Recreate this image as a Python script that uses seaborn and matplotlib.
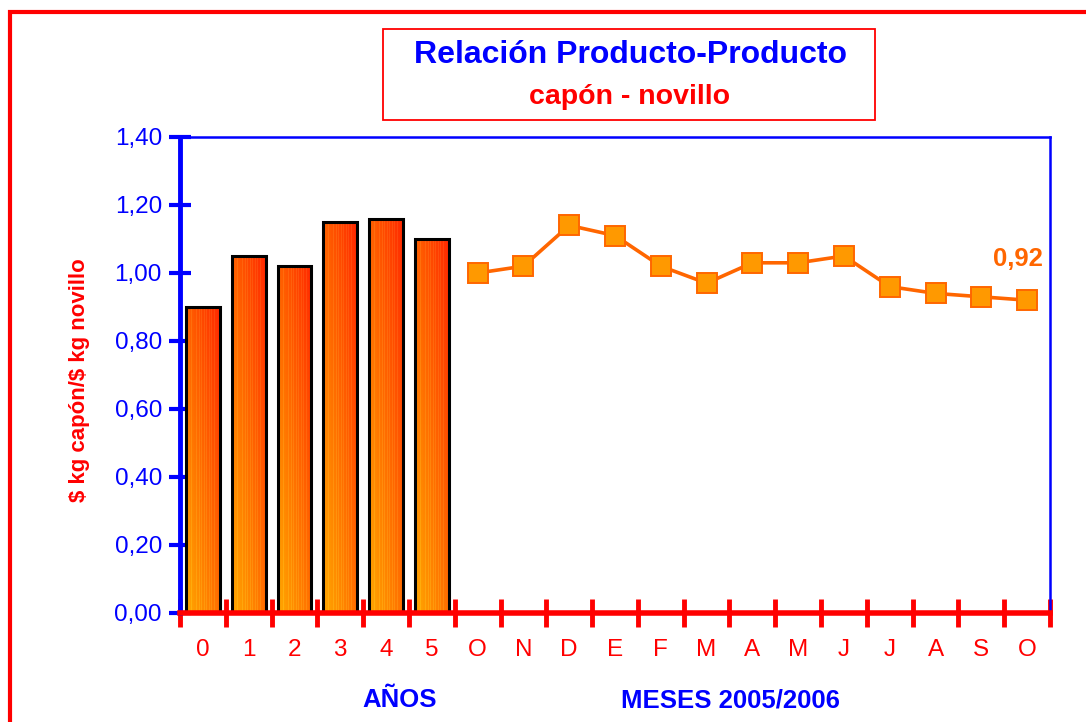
import numpy as np
import pandas as pd
import matplotlib
matplotlib.use("Agg")
import matplotlib.pyplot as plt
from matplotlib.patches import Rectangle
from matplotlib.colors import to_rgb
import seaborn as sns

# ---- data ----
year_labels = ["0", "1", "2", "3", "4", "5"]
year_values = [0.90, 1.05, 1.02, 1.15, 1.16, 1.10]
month_labels = ["O", "N", "D", "E", "F", "M", "A", "M", "J", "J", "A", "S", "O"]
month_values = [1.00, 1.02, 1.14, 1.11, 1.02, 0.97, 1.03, 1.03, 1.05, 0.96, 0.94, 0.93, 0.92]
y_ticks = [0.0, 0.2, 0.4, 0.6, 0.8, 1.0, 1.2, 1.4]

sns.set_theme(style="white")
plt.rcParams["font.family"] = ["Liberation Sans", "DejaVu Sans"]

BLUE = "#0000FF"
RED = "#FF0000"
ORANGE_LINE = "#FF6600"
ORANGE_FILL = "#FF9900"

fig = plt.figure(figsize=(10.86, 7.22), dpi=100)
ax = fig.add_axes([180 / 1086, 1 - 613 / 722, 870 / 1086, 476 / 722])

all_labels = year_labels + month_labels
n_all = len(all_labels)

bars_df = pd.DataFrame({"pos": np.arange(len(year_labels)), "val": year_values})
sns.barplot(data=bars_df, x="pos", y="val", ax=ax, width=0.74,
            color=ORANGE_FILL, edgecolor="black", linewidth=2.2, zorder=3)

# gradient fill for bars
c_bl = np.array(to_rgb("#FFA200"))
c_tr = np.array(to_rgb("#FF2200"))
for p in list(ax.patches):
    x0, y0 = p.get_x(), p.get_y()
    w, h = p.get_width(), p.get_height()
    nx, ny = 40, 200
    xf = np.linspace(0, 1, nx)[None, :]
    yf = np.linspace(1, 0, ny)[:, None]
    t = np.clip(0.45 * xf + 0.55 * yf - 0.05, 0, 1)
    img = c_bl[None, None, :] * (1 - t[..., None]) + c_tr[None, None, :] * t[..., None]
    stripes = (np.arange(nx) % 3 == 0)[None, :, None]
    img = np.where(stripes, np.clip(img + np.array([0, 0.07, 0.05]), 0, 1), img)
    im = ax.imshow(img, extent=[x0, x0 + w, y0, y0 + h], aspect="auto",
                   zorder=2.5, interpolation="nearest")
    im.set_clip_path(p)
    p.set_facecolor("none")

line_df = pd.DataFrame({"pos": np.arange(len(year_labels), n_all), "val": month_values})
sns.lineplot(data=line_df, x="pos", y="val", ax=ax, color=ORANGE_LINE, linewidth=2.6,
             marker="s", markersize=15, markerfacecolor=ORANGE_FILL,
             markeredgecolor=ORANGE_LINE, markeredgewidth=1.4, zorder=4)

last_x = line_df["pos"].iloc[-1]
last_y = line_df["val"].iloc[-1]
ax.annotate(f"{last_y:.2f}".replace(".", ","), xy=(last_x, last_y),
            xytext=(-6.5, 30), textcoords="offset points", ha="center", va="center",
            color=ORANGE_LINE, fontsize=18.5, fontweight="bold")

ax.set_xlim(-0.5, n_all - 0.5)
ax.set_ylim(0, 1.4)
ax.set_xlabel("")
ax.set_ylabel("")

ax.set_yticks(y_ticks)
ax.set_yticklabels([f"{v:.2f}".replace(".", ",") for v in y_ticks])
ax.tick_params(axis="y", direction="inout", length=16, width=3, color=BLUE,
               labelcolor=BLUE, labelsize=17.5, pad=5, left=True)

ax.set_xticks(np.arange(-0.5, n_all, 1))
ax.set_xticklabels([])
ax.set_xticks(np.arange(n_all), minor=True)
ax.set_xticklabels(all_labels, minor=True)
ax.tick_params(axis="x", which="major", direction="inout", length=20, width=3.5,
               color=RED, bottom=True)
ax.tick_params(axis="x", which="minor", length=0, labelcolor=RED, labelsize=17.5, pad=19)

ax.spines["left"].set_color(BLUE)
ax.spines["left"].set_linewidth(3.5)
ax.spines["top"].set_color(BLUE)
ax.spines["top"].set_linewidth(1.8)
ax.spines["right"].set_color(BLUE)
ax.spines["right"].set_linewidth(1.8)
ax.spines["bottom"].set_color(RED)
ax.spines["bottom"].set_linewidth(4)
for s in ax.spines.values():
    s.set_zorder(5)
ax.grid(False)

# outer border
fig.patches.append(Rectangle((9.5 / 1086, -0.1), 1.2, (1 - 11.5 / 722) + 0.1,
                             transform=fig.transFigure, fill=False,
                             edgecolor=RED, linewidth=3.0))
# title box
fig.patches.append(Rectangle((383 / 1086, 1 - 120 / 722), 492 / 1086, 91 / 722,
                             transform=fig.transFigure, fill=False,
                             edgecolor=RED, linewidth=1.3))
fig.text(630 / 1086, 1 - 63 / 722, "Relación Producto-Producto", ha="center",
         va="baseline", color=BLUE, fontsize=23, fontweight="bold")
fig.text(630 / 1086, 1 - 104 / 722, "capón - novillo", ha="center",
         va="baseline", color=RED, fontsize=20.5, fontweight="bold")

fig.text(80 / 1086, 1 - 380 / 722, "\\$ kg capón/\\$ kg novillo", rotation=90,
         ha="center", va="center", color=RED, fontsize=16, fontweight="bold")
fig.text(400 / 1086, 1 - 700 / 722, "AÑOS", ha="center", va="center",
         color=BLUE, fontsize=18.5, fontweight="bold")
fig.text(730 / 1086, 1 - 700 / 722, "MESES 2005/2006", ha="center", va="center",
         color=BLUE, fontsize=18.5, fontweight="bold")

fig.savefig("out.png", dpi=100)
